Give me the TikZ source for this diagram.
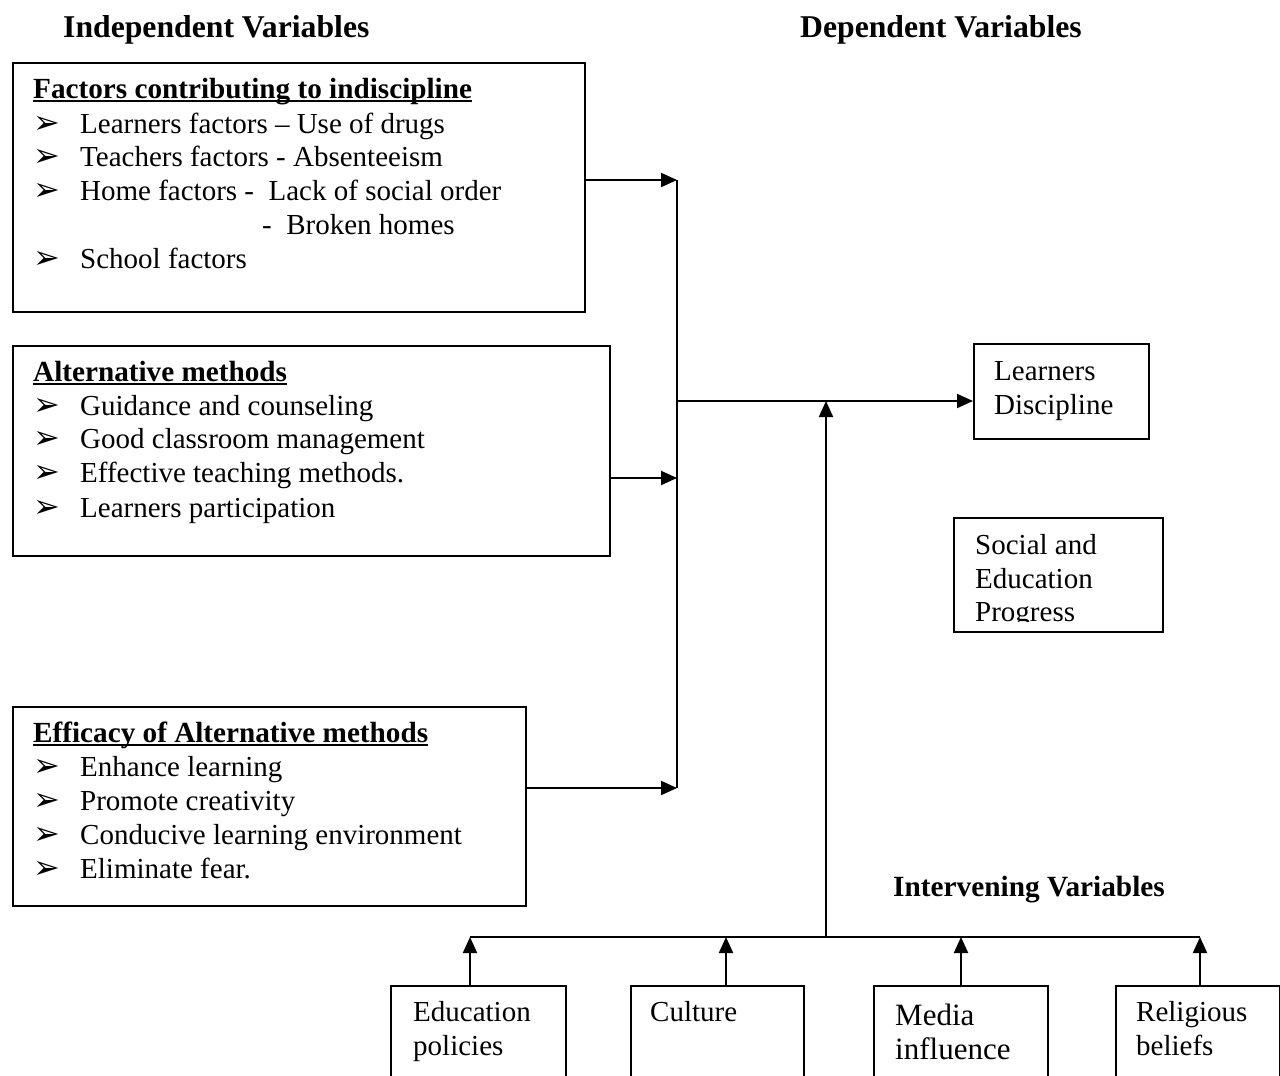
\documentclass[tikz,border=0pt]{standalone}
\usepackage{fontspec}
\setmainfont{Liberation Serif}
\newfontfamily\dvfont{DejaVu Sans}
\usetikzlibrary{arrows.meta}
\tikzset{
  box/.style={draw, line width=2pt, rectangle, inner sep=0pt, anchor=north west},
  txt/.style={anchor=base west, inner sep=0pt, font=\fontsize{29}{34}\selectfont},
  bigtxt/.style={anchor=base west, inner sep=0pt, font=\fontsize{31}{36}\selectfont},
  hd/.style={anchor=base west, inner sep=0pt, font=\fontsize{31.7}{36}\selectfont\bfseries},
  hdsmall/.style={anchor=base west, inner sep=0pt, font=\fontsize{29.3}{34}\selectfont\bfseries},
  ttl/.style={anchor=base west, inner sep=0pt, font=\fontsize{29.2}{34}\selectfont\bfseries},
  bul/.style={anchor=base west, inner sep=0pt, font=\dvfont\fontsize{32}{36}\selectfont},
  arr/.style={line width=2pt, -{Triangle[length=16pt,width=14pt]}},
  ln/.style={line width=2pt},
  ul/.style={line width=2.2pt},
}
\begin{document}
\begin{tikzpicture}[x=1pt,y=-1pt]
\useasboundingbox (0,0) rectangle (1280,1076);
\clip (0,0) rectangle (1280,1076);
\fill[white] (0,0) rectangle (1280,1076);

% headings
\node[hd] (hind) at (63,37) {Independent Variables};
\node[hd] (hdep) at (800,37) {Dependent Variables};
\node[hdsmall] (hint) at (893,896) {Intervening Variables};

% box 1
\node[box, minimum width=572pt, minimum height=249pt] (b1) at (12,62) {};
\node[ttl] (t1) at (33,98) {Factors contributing to indiscipline};
\draw[ul] ([yshift=-3pt]t1.base west) -- ([yshift=-3pt]t1.base east);
\node[bul] (b1a) at (33,133) {➢};
\node[txt] (b1at) at (80,133) {Learners factors – Use of drugs};
\node[bul] (b1b) at (33,166) {➢};
\node[txt] (b1bt) at (80,166) {Teachers factors - Absenteeism};
\node[bul] (b1c) at (33,200) {➢};
\node[txt] (b1ct) at (80,200) {Home factors -\ \ Lack of social order};
\node[txt] (b1dt) at (262,234) {-\ \ Broken homes};
\node[bul] (b1e) at (33,268) {➢};
\node[txt] (b1et) at (80,268) {School factors};

% box 2
\node[box, minimum width=597pt, minimum height=210pt] (b2) at (12,345) {};
\node[ttl] (t2) at (33,381) {Alternative methods};
\draw[ul] ([yshift=-3pt]t2.base west) -- ([yshift=-3pt]t2.base east);
\node[bul] (b2a) at (33,415) {➢};
\node[txt] (b2at) at (80,415) {Guidance and counseling};
\node[bul] (b2b) at (33,448) {➢};
\node[txt] (b2bt) at (80,448) {Good classroom management};
\node[bul] (b2c) at (33,482) {➢};
\node[txt] (b2ct) at (80,482) {Effective teaching methods.};
\node[bul] (b2d) at (33,517) {➢};
\node[txt] (b2dt) at (80,517) {Learners participation};

% box 3
\node[box, minimum width=513pt, minimum height=199pt] (b3) at (12,706) {};
\node[ttl] (t3) at (33,742) {Efficacy of Alternative methods};
\draw[ul] ([yshift=-3pt]t3.base west) -- ([yshift=-3pt]t3.base east);
\node[bul] (b3a) at (33,776) {➢};
\node[txt] (b3at) at (80,776) {Enhance learning};
\node[bul] (b3b) at (33,810) {➢};
\node[txt] (b3bt) at (80,810) {Promote creativity};
\node[bul] (b3c) at (33,844) {➢};
\node[txt] (b3ct) at (80,844) {Conducive learning environment};
\node[bul] (b3d) at (33,878) {➢};
\node[txt] (b3dt) at (80,878) {Eliminate fear.};

% dependent boxes
\node[box, minimum width=175pt, minimum height=95pt] (ld) at (973,343) {};
\node[txt] (ldt1) at (994,380) {Learners};
\node[txt] (ldt2) at (994,414) {Discipline};

\node[box, minimum width=209pt, minimum height=114pt] (sep) at (953,517) {};
\begin{scope}
\clip (953,517) rectangle (1162,621);
\node[txt] (sept1) at (975,554) {Social and};
\node[txt] (sept2) at (975,588) {Education};
\node[txt] (sept3) at (975,621) {Progress};
\end{scope}

% intervening boxes
\node[box, minimum width=175pt, minimum height=140pt] (ea) at (390,985) {};
\node[txt] (eat1) at (413,1021) {Education};
\node[txt] (eat2) at (413,1055) {policies};
\node[box, minimum width=173pt, minimum height=140pt] (cu) at (630,985) {};
\node[txt] (cut1) at (650,1021) {Culture};
\node[box, minimum width=174pt, minimum height=140pt] (me) at (873,985) {};
\node[bigtxt] (met1) at (895,1025) {Media};
\node[bigtxt] (met2) at (895,1059) {influence};
\node[box, minimum width=164pt, minimum height=140pt] (re) at (1115,985) {};
\node[txt] (ret1) at (1136,1021) {Religious};
\node[txt] (ret2) at (1136,1055) {beliefs};

% junction coordinates
\coordinate (j1) at (677,180);
\coordinate (j2) at (677,478);
\coordinate (j3) at (677,788);
\coordinate (jm) at (677,401);
\coordinate (jt) at (826,401);
\coordinate (jb) at (826,937);
\coordinate (i1) at (470,937);
\coordinate (i2) at (726,937);
\coordinate (i3) at (961,937);
\coordinate (i4) at (1200,937);

% connectors
\draw[arr] (b1.east |- j1) -- (j1);
\draw[arr] (b2.east |- j2) -- (j2);
\draw[arr] (b3.east |- j3) -- (j3);
\draw[ln] (j1) -- (j3);
\draw[arr] (jm) -- (jm -| ld.west);
\draw[arr] (jb) -- (jt);
\draw[ln] (i1) -- (i4);
\draw[arr] (ea.north -| i1) -- (i1);
\draw[arr] (cu.north -| i2) -- (i2);
\draw[arr] (me.north -| i3) -- (i3);
\draw[arr] (re.north -| i4) -- (i4);
\end{tikzpicture}
\end{document}
